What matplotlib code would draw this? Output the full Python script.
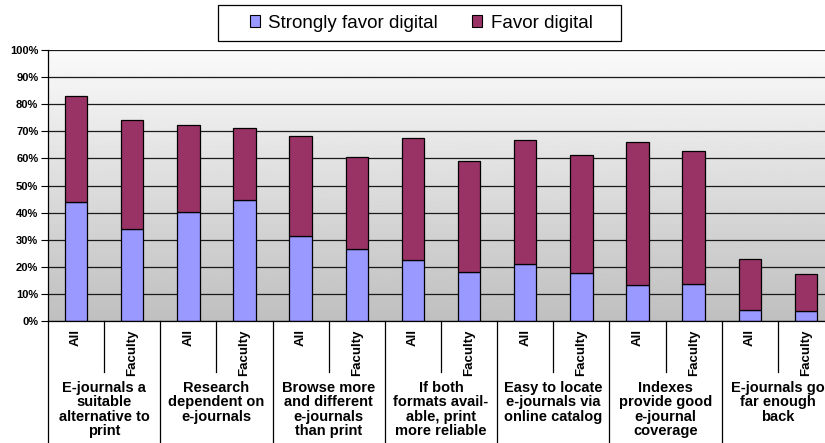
import matplotlib.pyplot as plt
import numpy as np
from matplotlib.patches import Patch, Rectangle
from matplotlib.transforms import blended_transform_factory

plt.rcParams['font.family'] = ['Liberation Sans', 'DejaVu Sans']

# Data (percent)
groups = ["E-journals a\nsuitable\nalternative to\nprint",
          "Research\ndependent on\ne-journals",
          "Browse more\nand different\ne-journals\nthan print",
          "If both\nformats avail-\nable, print\nmore reliable",
          "Easy to locate\ne-journals via\nonline catalog",
          "Indexes\nprovide good\ne-journal\ncoverage",
          "E-journals go\nfar enough\nback"]
subgroups = ["All", "Faculty"]
strongly = [43.9, 33.8, 40.1, 44.8, 31.3, 26.6, 22.6, 18.1, 20.9, 17.6, 13.2, 13.5, 4.2, 3.6]
total = [83.1, 74.2, 72.2, 71.1, 68.4, 60.4, 67.5, 58.9, 66.7, 61.1, 65.9, 62.8, 22.8, 17.5]
favor = [t - s for t, s in zip(total, strongly)]

W, H = 825, 443
fig = plt.figure(figsize=(W / 100, H / 100), dpi=100)
ax = fig.add_axes([48 / W, (H - 321) / H, 786 / W, 271 / H])

x = np.arange(len(total))
ax.set_xlim(-0.5, len(total) - 0.5)
ax.set_ylim(0, 100)

# gradient background, light at top, grey at bottom
grad = np.linspace(0.98, 0.75, 256).reshape(-1, 1)
ax.imshow(grad, cmap='gray', vmin=0, vmax=1, aspect='auto',
          extent=[-0.5, len(total) - 0.5, 0, 100], zorder=0, origin='upper')

ax.bar(x, strongly, width=0.4, color="#9999FF", edgecolor="black", linewidth=0.9, zorder=2)
ax.bar(x, favor, bottom=strongly, width=0.4, color="#993366", edgecolor="black", linewidth=0.9, zorder=2)

ax.set_axisbelow(True)
ax.yaxis.grid(True, color="#1a1a1a", linewidth=0.9)
ax.set_yticks(np.arange(0, 101, 10))
ax.set_yticklabels(["%d%%" % v for v in range(0, 101, 10)], fontsize=8, fontweight='bold')
ax.tick_params(axis='y', direction='out', length=5, width=0.8, pad=2)
ax.set_xticks([])
for s in ['top', 'right']:
    ax.spines[s].set_visible(False)
ax.spines['left'].set_linewidth(0.9)
ax.spines['bottom'].set_linewidth(0.9)

# multi-level category axis
tr = blended_transform_factory(ax.transData, ax.transAxes)
def yfrac(py):
    return (321 - py) / 271.0

for i in range(len(total)):
    ax.text(x[i], yfrac(329), subgroups[i % 2], rotation=90, ha='center', va='top',
            fontsize=9.5, fontweight='bold', transform=tr, clip_on=False)
for b in range(len(total) + 1):
    bx = b - 0.5
    low = yfrac(372) if b % 2 == 1 else yfrac(460)
    ax.plot([bx, bx], [0, low], color='black', linewidth=0.9, transform=tr, clip_on=False)
for g, name in enumerate(groups):
    ax.text(2 * g + 0.5, yfrac(381), name, ha='center', va='top', fontsize=10.5,
            fontweight='bold', linespacing=1.03, transform=tr, clip_on=False)

# legend box drawn separately (wider horizontal padding than matplotlib gives)
fig.patches.append(Rectangle((218 / W, 1 - 41 / H), 403 / W, 36 / H, transform=fig.transFigure,
                             facecolor='white', edgecolor='black', linewidth=0.9))
handles = [Patch(facecolor="#9999FF", edgecolor="black", linewidth=0.8, label="Strongly favor digital"),
           Patch(facecolor="#993366", edgecolor="black", linewidth=0.8, label="Favor digital")]
leg = fig.legend(handles=handles, loc='center', bbox_to_anchor=(421 / W, 1 - 23 / H), ncol=2,
                 fontsize=13.5, frameon=False, handlelength=0.55, handleheight=0.55,
                 handletextpad=0.45, columnspacing=1.8, borderpad=0.4)

fig.savefig("out.png", dpi=100)
